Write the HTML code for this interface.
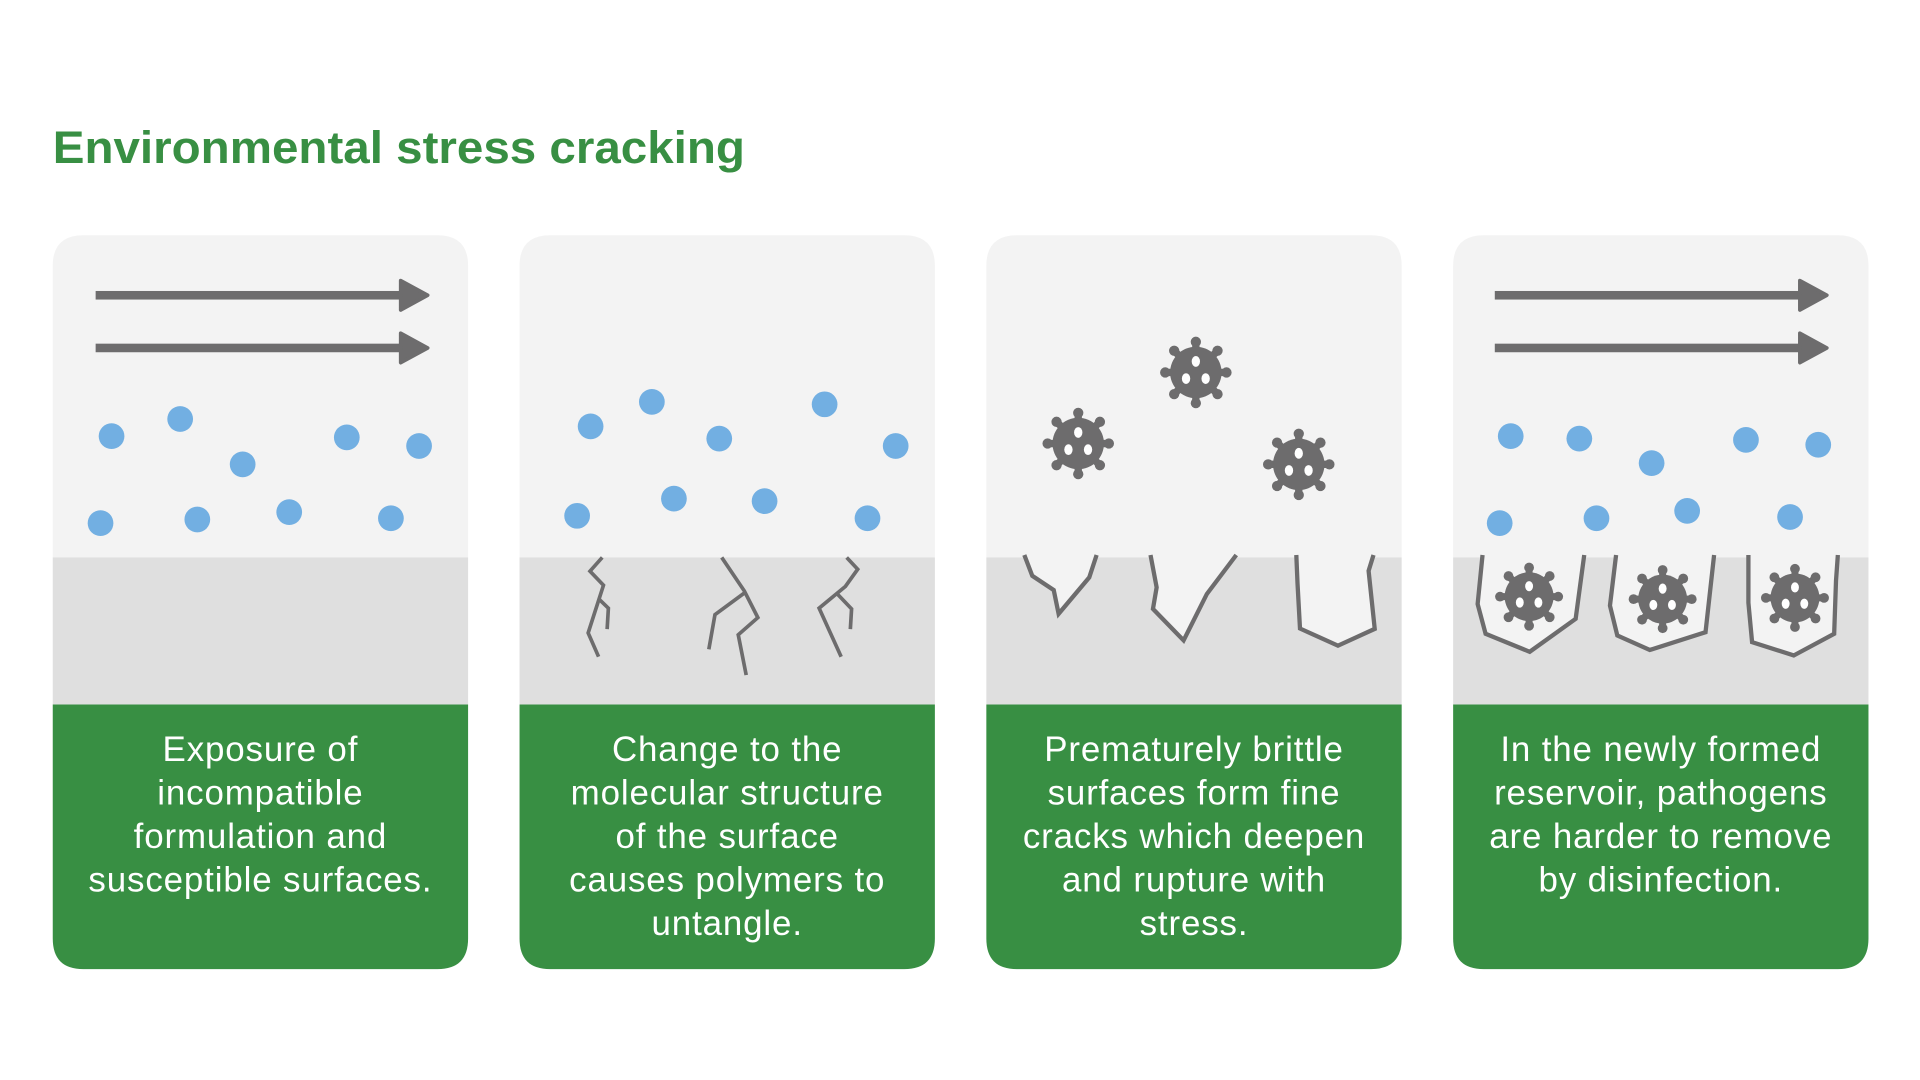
<!DOCTYPE html>
<html><head><meta charset="utf-8"><style>html,body{margin:0;padding:0;background:#fff;}svg{display:block}</style></head>
<body>
<svg width="1920" height="1080" viewBox="0 0 1567 881.5" xmlns="http://www.w3.org/2000/svg">
<defs>
<g id="v">
<g stroke="#6d6c6d" stroke-width="6" stroke-linecap="round">
<line x1="0" y1="0" x2="0" y2="-24"/><line x1="0" y1="0" x2="0" y2="24"/>
<line x1="0" y1="0" x2="24" y2="0"/><line x1="0" y1="0" x2="-24" y2="0"/>
<line x1="0" y1="0" x2="17" y2="17"/><line x1="0" y1="0" x2="-17" y2="17"/>
<line x1="0" y1="0" x2="17" y2="-17"/><line x1="0" y1="0" x2="-17" y2="-17"/>
</g>
<g fill="#6d6c6d"><circle r="21"/>
<circle cy="-25" r="4.2"/><circle cy="25" r="4.2"/><circle cx="25" r="4.2"/><circle cx="-25" r="4.2"/>
<circle cx="17.7" cy="17.7" r="4.2"/><circle cx="-17.7" cy="17.7" r="4.2"/><circle cx="17.7" cy="-17.7" r="4.2"/><circle cx="-17.7" cy="-17.7" r="4.2"/></g>
<g fill="#fff"><ellipse cx="0" cy="-9" rx="3.4" ry="4.4"/><ellipse cx="-8" cy="5" rx="3.4" ry="4.4"/><ellipse cx="8" cy="5" rx="3.4" ry="4.4"/></g>
</g>
<g id="arr" fill="#6d6c6d" stroke="#6d6c6d">
<rect x="78" y="237.5" width="252" height="7" stroke="none"/>
<polygon points="327,229 349,241 327,253" stroke-width="3" stroke-linejoin="round"/>
</g>
<g id="panel">
<path d="M0,25 Q0,0 25,0 L314,0 Q339,0 339,25 L339,263 L0,263 Z" fill="#f3f3f3"/>
<rect x="0" y="263" width="339" height="120" fill="#dfdfdf"/>
<path d="M0,383 L339,383 L339,574 Q339,599 314,599 L25,599 Q0,599 0,574 Z" fill="#388f43"/>
</g>
</defs>

<text x="43" y="133" font-family="Liberation Sans, sans-serif" font-weight="bold" font-size="37" fill="#388f43" textLength="565" lengthAdjust="spacingAndGlyphs">Environmental stress cracking</text>

<use href="#panel" x="43" y="192"/>
<use href="#panel" x="424" y="192"/>
<use href="#panel" x="805" y="192"/>
<use href="#panel" x="1186" y="192"/>

<use href="#arr"/><use href="#arr" y="43"/>
<g fill="#72afe2">
<circle cx="91" cy="356" r="10.5"/><circle cx="147" cy="342" r="10.5"/><circle cx="198" cy="379" r="10.5"/><circle cx="283" cy="357" r="10.5"/><circle cx="342" cy="364" r="10.5"/>
<circle cx="82" cy="427" r="10.5"/><circle cx="161" cy="424" r="10.5"/><circle cx="236" cy="418" r="10.5"/><circle cx="319" cy="423" r="10.5"/>
<circle cx="482" cy="348" r="10.5"/><circle cx="532" cy="328" r="10.5"/><circle cx="587" cy="358" r="10.5"/><circle cx="673" cy="330" r="10.5"/><circle cx="731" cy="364" r="10.5"/>
<circle cx="471" cy="421" r="10.5"/><circle cx="550" cy="407" r="10.5"/><circle cx="624" cy="409" r="10.5"/><circle cx="708" cy="423" r="10.5"/>
<circle cx="1233" cy="356" r="10.5"/><circle cx="1289" cy="358" r="10.5"/><circle cx="1348" cy="378" r="10.5"/><circle cx="1425" cy="359" r="10.5"/><circle cx="1484" cy="363" r="10.5"/>
<circle cx="1224" cy="427" r="10.5"/><circle cx="1303" cy="423" r="10.5"/><circle cx="1377" cy="417" r="10.5"/><circle cx="1461" cy="422" r="10.5"/>
</g>

<g fill="none" stroke="#6d6c6d" stroke-width="3">
<polyline points="491.5,455 481.5,466.2 492.5,477.7 480,516.6 488.5,536"/>
<polyline points="489,489.2 496.5,496.4 495.5,513.5"/>
<polyline points="589,455 607.5,482.4 618.5,504.1 602.5,518.1 609,551"/>
<polyline points="607.5,484 583.5,501.7 578.5,530"/>
<polyline points="691,455 700,464.6 690,478.6 668.5,496.4 686.5,536"/>
<polyline points="683.5,484.9 695,497 694,513.5"/>
</g>

<use href="#v" transform="translate(976,304)"/>
<use href="#v" transform="translate(880,362)"/>
<use href="#v" transform="translate(1060,379)"/>
<g fill="#f3f3f3" stroke="#6d6c6d" stroke-width="3.5">
<polyline points="836,453 842.5,470 860,481.6 864,501 889,471.3 895,453"/>
<polyline points="939,453 944,479.4 941,497 966,522.7 985,484.8 1009,453"/>
<polyline points="1058,453 1059,476.5 1061,513 1092,527 1122,513.3 1117,465.9 1121,453"/>
</g>

<use href="#arr" x="1142"/><use href="#arr" x="1142" y="43"/>
<g fill="#f3f3f3" stroke="#6d6c6d" stroke-width="3.5">
<polyline points="1210,453 1206,493 1212.5,517.3 1248.5,532 1286,505.1 1293,453"/>
<polyline points="1319,453 1314,494.3 1320,518.7 1346.5,530.5 1392,516 1399,453"/>
<polyline points="1427,453 1427,492 1430,524.1 1464,535 1497,517.3 1498.5,474 1500,453"/>
</g>
<use href="#v" transform="translate(1248,487) scale(0.95)"/>
<use href="#v" transform="translate(1357,489) scale(0.95)"/>
<use href="#v" transform="translate(1465,488) scale(0.95)"/>

<g font-family="Liberation Sans, sans-serif" font-size="28.5" letter-spacing="0.7" fill="#fff" text-anchor="middle">
<text x="212.5" y="621">Exposure of</text>
<text x="212.5" y="656.5">incompatible</text>
<text x="212.5" y="692">formulation and</text>
<text x="212.5" y="727.5">susceptible surfaces.</text>

<text x="593.5" y="621">Change to the</text>
<text x="593.5" y="656.5">molecular structure</text>
<text x="593.5" y="692">of the surface</text>
<text x="593.5" y="727.5">causes polymers to</text>
<text x="593.5" y="763">untangle.</text>

<text x="974.5" y="621">Prematurely brittle</text>
<text x="974.5" y="656.5">surfaces form fine</text>
<text x="974.5" y="692">cracks which deepen</text>
<text x="974.5" y="727.5">and rupture with</text>
<text x="974.5" y="763">stress.</text>

<text x="1355.5" y="621">In the newly formed</text>
<text x="1355.5" y="656.5">reservoir, pathogens</text>
<text x="1355.5" y="692">are harder to remove</text>
<text x="1355.5" y="727.5">by disinfection.</text>
</g>
</svg>
</body></html>
